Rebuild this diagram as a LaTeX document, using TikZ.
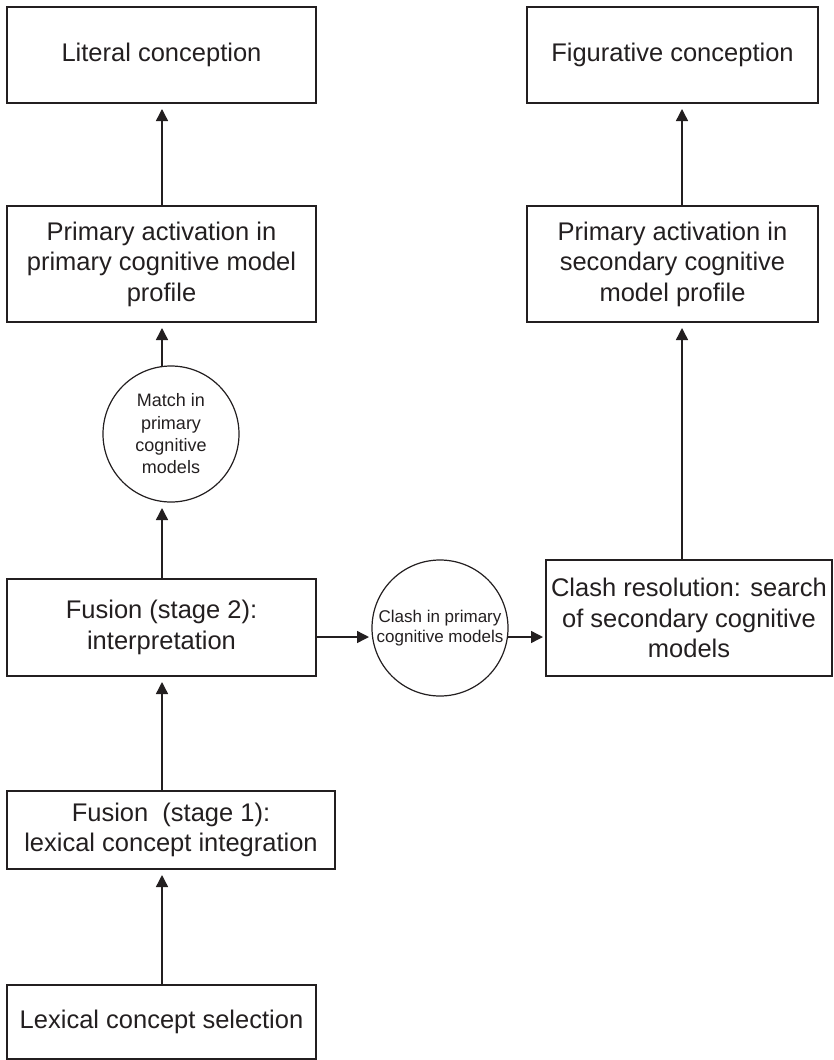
\documentclass[tikz,border=0pt]{standalone}
\usepackage{fontspec}
\setmainfont{Liberation Sans}
\usetikzlibrary{arrows.meta}
\definecolor{ink}{HTML}{231F20}
\begin{document}
\begin{tikzpicture}[x=1pt,y=-1pt,
  every node/.style={inner sep=0pt,outer sep=0pt,text=ink},
  stagebox/.style={draw=ink,line width=1.4pt,rectangle,align=center,
    font=\fontsize{25.5}{30.5}\selectfont},
  testcircle/.style={draw=ink,line width=1.2pt,circle,minimum size=136pt,align=center},
  arr/.style={draw=ink,line width=1.4pt,-{Triangle[length=12pt,width=12pt]}},
  varr/.style={arr,shorten >=6pt},
  harr/.style={arr,shorten >=3pt}]
\useasboundingbox (0,0) rectangle (834,1060);

% guide lines for the two columns and the horizontal branch
\coordinate (colL) at (162,0);
\coordinate (colR) at (682,0);
\coordinate (rowH) at (0,637);

% boxes
\node[stagebox,minimum width=309pt,minimum height=96pt] (lit) at (161.5,55) {Literal conception};
\node[stagebox,minimum width=291pt,minimum height=96pt] (fig) at (672.5,55) {Figurative conception};
\node[stagebox,minimum width=309pt,minimum height=116pt] (priL) at (161.5,264)
  {Primary activation in\\primary cognitive model\\profile};
\node[stagebox,minimum width=291pt,minimum height=116pt] (priR) at (672.5,264)
  {Primary activation in\\secondary cognitive\\model profile};
\node[stagebox,minimum width=309pt,minimum height=97pt] (fus2) at (161.5,627.5)
  {Fusion (stage 2):\\interpretation};
\node[stagebox,minimum width=286pt,minimum height=116pt] (res) at (689,618)
  {Clash resolution: search\\of secondary cognitive\\models};
\node[stagebox,minimum width=328pt,minimum height=78pt] (fus1) at (171,830)
  {Fusion\ \ (stage 1):\\lexical concept integration};
\node[stagebox,minimum width=309pt,minimum height=74pt] (lex) at (161.5,1022)
  {Lexical concept selection};

% circles
\node[testcircle,font=\fontsize{18}{22.3}\selectfont] (match) at (171,434)
  {Match in\\primary\\cognitive\\models};
\node[testcircle,font=\fontsize{17}{20.5}\selectfont] (clash) at (440,628)
  {Clash in primary\\cognitive models};

% left column
\draw[varr] (lex.north -| colL) -- (fus1.south -| colL);
\draw[varr] (fus1.north -| colL) -- (fus2.south -| colL);
\draw[varr] (fus2.north -| colL) -- (match.south -| colL);
\draw[varr] (match.north -| colL) -- (priL.south -| colL);
\draw[varr] (priL.north -| colL) -- (lit.south -| colL);

% branch to the right
\draw[harr] (fus2.east |- rowH) -- (clash.west |- rowH);
\draw[harr] (clash.east |- rowH) -- (res.west |- rowH);

% right column
\draw[varr] (res.north -| colR) -- (priR.south -| colR);
\draw[varr] (priR.north -| colR) -- (fig.south -| colR);
\end{tikzpicture}
\end{document}
